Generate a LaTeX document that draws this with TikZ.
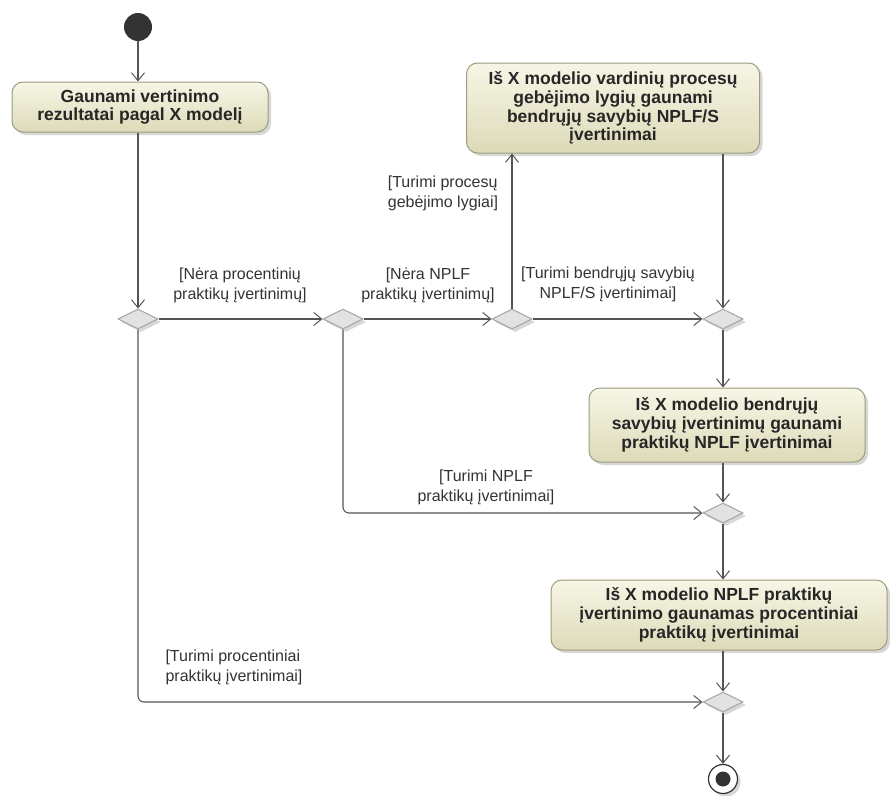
\documentclass[tikz,border=0pt]{standalone}
\usepackage{fontspec}
\setmainfont{Liberation Sans}
\usetikzlibrary{arrows.meta,shapes.geometric,shadows}

\definecolor{linegray}{HTML}{555555}
\definecolor{boxedge}{HTML}{9C9C80}
\definecolor{boxlight}{HTML}{F7F6E6}
\definecolor{boxdark}{HTML}{DDDAB8}
\definecolor{diafill}{HTML}{E2E2E2}
\definecolor{diaedge}{HTML}{A4A4A4}
\definecolor{inkdark}{HTML}{333333}

\tikzset{
  softshadow/.style={drop shadow={shadow xshift=3pt, shadow yshift=-3pt, fill=black!35, opacity=0.45}},
  actbox/.style={rounded corners=11pt, draw=boxedge, line width=1pt,
    top color=boxlight, bottom color=boxdark, softshadow,
    align=center, inner sep=0pt, text=black!85,
    font=\fontsize{17.5}{18.8}\selectfont\bfseries},
  decision/.style={diamond, aspect=2, minimum width=40pt, minimum height=20pt,
    inner sep=0pt, draw=diaedge, fill=diafill, line width=1pt, softshadow},
  flow/.style={draw=linegray, line width=1.1pt,
    -{Straight Barb[length=8pt,width=13pt,line width=1pt]}},
  guard/.style={align=center, inner sep=0pt, text=inkdark,
    font=\fontsize{16}{20}\selectfont},
}

\begin{document}
\begin{tikzpicture}[x=1pt,y=-1pt]
  \useasboundingbox (0,0) rectangle (890,795);

  % initial and final nodes
  \node[circle, fill=inkdark, minimum size=28pt, inner sep=0pt] (start) at (138,27) {};
  \node[circle, draw=inkdark, fill=white, line width=1.2pt, minimum size=29pt, inner sep=0pt, softshadow] (final) at (723,779) {};
  \node[circle, fill=inkdark, minimum size=15pt, inner sep=0pt] at (final) {};

  % actions
  \node[actbox, minimum width=256pt, minimum height=50pt] (b1) at (140,107)
    {Gaunami vertinimo\\rezultatai pagal X modelį};
  \node[actbox, minimum width=293pt, minimum height=90pt] (b2) at (613,108)
    {Iš X modelio vardinių procesų\\gebėjimo lygių gaunami\\bendrųjų savybių NPLF/S\\įvertinimai};
  \node[actbox, minimum width=276pt, minimum height=74pt] (b3) at (727,425)
    {Iš X modelio bendrųjų\\savybių įvertinimų gaunami\\praktikų NPLF įvertinimai};
  \node[actbox, minimum width=336pt, minimum height=70pt] (b4) at (719,615)
    {Iš X modelio NPLF praktikų\\įvertinimo gaunamas procentiniai\\praktikų įvertinimai};

  % decision / merge nodes
  \node[decision] (d1) at (138,319) {};
  \node[decision] (d2) at (343,319) {};
  \node[decision] (d3) at (512,319) {};
  \node[decision] (d4) at (723,319) {};
  \node[decision] (d5) at (723,513) {};
  \node[decision] (d6) at (723,702) {};

  % control flows
  \draw[flow] (start) -- (start |- b1.north);
  \draw[flow] (d1 |- b1.south) -- (d1.north);
  \draw[flow] (d1.east) -- (d2.west);
  \draw[flow] (d2.east) -- (d3.west);
  \draw[flow] (d3.east) -- (d4.west);
  \draw[flow] (d3.north) -- (d3 |- b2.south);
  \draw[flow] (d4 |- b2.south) -- (d4.north);
  \draw[flow] (d4.south) -- (d4 |- b3.north);
  \draw[flow] (d5 |- b3.south) -- (d5.north);
  \draw[flow, rounded corners=6pt] (d2.south) |- (d5.west);
  \draw[flow] (d5.south) -- (d5 |- b4.north);
  \draw[flow] (d6 |- b4.south) -- (d6.north);
  \draw[flow, rounded corners=6pt] (d1.south) |- (d6.west);
  \draw[flow] (d6.south) -- (final.north);

  % guards
  \node[guard] (g1) at (240,285) {[Nėra procentinių\\praktikų įvertinimų]};
  \node[guard] (g2) at (428,285) {[Nėra NPLF\\praktikų įvertinimų]};
  \node[guard] (g3) at (608,284) {[Turimi bendrųjų savybių\\NPLF/S įvertinimai]};
  \node[guard, align=left] (g4) at (443,193) {[Turimi procesų\\gebėjimo lygiai]};
  \node[guard] (g5) at (486,487) {[Turimi NPLF\\praktikų įvertinimai]};
  \node[guard, align=left] (g6) at (234,667) {[Turimi procentiniai\\praktikų įvertinimai]};
\end{tikzpicture}
\end{document}
